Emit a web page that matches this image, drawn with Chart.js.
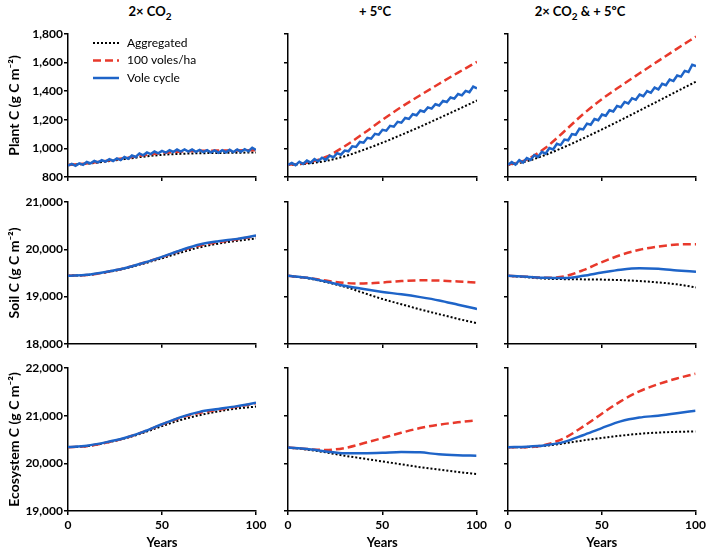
<!DOCTYPE html>
<html>
<head>
<meta charset="utf-8">
<script src="https://cdn.jsdelivr.net/npm/chart.js@4.4.0/dist/chart.umd.min.js"></script>
<style>
  body { margin: 0; background: #fff; width: 709px; height: 552px; position: relative; overflow: hidden; font-family: Lato, sans-serif; }
  canvas { position: absolute; }
  .coltitle { position: absolute; top: 3px; font: bold 13px/16px Lato, sans-serif; color: #000; transform: translateX(-50%); white-space: nowrap; }
  .coltitle sub { font-size: 10px; line-height: 0; }
</style>
</head>
<body>
<div class="coltitle" style="left:150px">2× CO<sub>2</sub></div>
<div class="coltitle" style="left:375px">+ 5ºC</div>
<div class="coltitle" style="left:580px">2× CO<sub>2</sub> &amp; + 5ºC</div>
<script>
// years for the smooth series and for the (zig-zag) plant vole cycle
const years = [0, 10, 20, 30, 40, 50, 60, 70, 80, 90, 100];
const cycleYears = [0, 2, 4, 6, 8, 10, 12, 14, 16, 18, 20, 22, 24, 26, 28, 30, 32, 34, 36, 38, 40,
  42, 44, 46, 48, 50, 52, 54, 56, 58, 60, 62, 64, 66, 68, 70, 72, 74, 76, 78, 80,
  82, 84, 86, 88, 90, 92, 94, 96, 98, 100];

// tick labels
const yearTicks = [0, 50, 100];
const plantTicks = [800, 1000, 1200, 1400, 1600, 1800];
const soilTicks = [18000, 19000, 20000, 21000];
const ecoTicks = [19000, 20000, 21000, 22000];

const rowTitles = ["Plant C (g C m⁻²)", "Soil C (g C m⁻²)", "Ecosystem C (g C m⁻²)"];
const seriesNames = ["Aggregated", "100 voles/ha", "Vole cycle"];

// Plant C
const plantCO2Agg = [884, 893, 908, 925, 942, 955, 962, 966, 968, 970, 971];
const plantCO2Voles = [884, 895, 912, 932, 952, 968, 978, 983, 985, 986, 987];
const plantCO2Cycle = [880, 892, 878, 895, 885, 905, 895, 912, 902, 918, 908, 925, 912, 930, 918, 940,
  928, 950, 940, 965, 952, 972, 960, 978, 965, 982, 970, 988, 975, 992, 978, 993, 978, 992, 976, 990,
  974, 988, 972, 986, 970, 988, 972, 990, 975, 992, 977, 995, 980, 1005, 990];

const plantTempAgg = [885, 893, 912, 945, 990, 1040, 1095, 1152, 1212, 1273, 1335];
const plantTempVoles = [885, 900, 940, 1015, 1105, 1200, 1290, 1372, 1452, 1530, 1605];
const plantTempCycle = [885, 899, 883, 907, 891, 915, 900, 925, 910, 935, 920, 949, 938, 967, 956, 985,
  980, 1015, 1010, 1045, 1040, 1074, 1068, 1102, 1096, 1130, 1124, 1158, 1152, 1186, 1180, 1213, 1206,
  1239, 1232, 1265, 1256, 1287, 1278, 1309, 1300, 1332, 1324, 1356, 1348, 1380, 1371, 1402, 1393, 1432, 1420];

const plantBothAgg = [885, 910, 955, 1010, 1070, 1133, 1198, 1265, 1332, 1400, 1467];
const plantBothVoles = [885, 922, 1005, 1120, 1240, 1345, 1437, 1525, 1612, 1698, 1782];
const plantBothCycle = [885, 904, 887, 918, 901, 932, 919, 954, 941, 976, 963, 1002, 993, 1032, 1023, 1062,
  1057, 1100, 1095, 1138, 1133, 1173, 1165, 1205, 1197, 1237, 1228, 1267, 1258, 1297, 1288, 1325, 1314,
  1351, 1340, 1377, 1365, 1401, 1389, 1425, 1413, 1452, 1442, 1481, 1471, 1510, 1502, 1542, 1534, 1585, 1575];

// Soil C
const soilCO2Agg = [19440, 19455, 19510, 19590, 19695, 19810, 19930, 20040, 20120, 20180, 20230];
const soilCO2Voles = [19440, 19455, 19515, 19600, 19710, 19835, 19970, 20080, 20150, 20210, 20280];
const soilCO2Cycle = [19440, 19460, 19520, 19600, 19710, 19840, 19980, 20100, 20170, 20220, 20290];

const soilTempAgg = [19440, 19390, 19310, 19210, 19080, 18950, 18840, 18730, 18630, 18530, 18440];
const soilTempVoles = [19440, 19400, 19340, 19290, 19280, 19300, 19330, 19345, 19340, 19320, 19295];
const soilTempCycle = [19440, 19400, 19320, 19230, 19160, 19100, 19050, 18990, 18920, 18830, 18740];

const soilBothAgg = [19440, 19410, 19380, 19370, 19365, 19360, 19350, 19330, 19300, 19260, 19195];
const soilBothVoles = [19440, 19420, 19400, 19430, 19560, 19730, 19880, 19990, 20060, 20100, 20110];
const soilBothCycle = [19440, 19420, 19400, 19395, 19440, 19510, 19570, 19600, 19590, 19555, 19525];

// Ecosystem C
const ecoCO2Agg = [20340, 20360, 20430, 20520, 20640, 20780, 20910, 21010, 21090, 21150, 21190];
const ecoCO2Voles = [20340, 20360, 20430, 20525, 20660, 20815, 20960, 21060, 21125, 21190, 21260];
const ecoCO2Cycle = [20340, 20370, 20440, 20530, 20660, 20820, 20970, 21080, 21140, 21200, 21270];

const ecoTempAgg = [20330, 20290, 20230, 20160, 20100, 20040, 19980, 19920, 19870, 19820, 19775];
const ecoTempVoles = [20330, 20300, 20280, 20320, 20420, 20530, 20640, 20740, 20810, 20860, 20900];
const ecoTempCycle = [20330, 20300, 20250, 20210, 20210, 20220, 20240, 20230, 20190, 20170, 20160];

const ecoBothAgg = [20340, 20340, 20370, 20420, 20480, 20530, 20580, 20620, 20645, 20660, 20670];
const ecoBothVoles = [20340, 20340, 20390, 20530, 20770, 21040, 21300, 21510, 21660, 21780, 21880];
const ecoBothCycle = [20340, 20350, 20380, 20450, 20590, 20740, 20880, 20960, 21000, 21050, 21105];

// page layout (pixels)
const colLeft = [0, 262, 482], colRight = [270, 490, 709];
const areaLeft = [68, 288, 508], areaRight = [256, 477, 696];
const rowTop = [20, 186, 352], rowBottom = [186, 352, 552];
const areaTop = [34, 202, 368], areaBottom = [177, 344, 511];

Chart.defaults.font.family = "Lato, sans-serif";
Chart.defaults.color = "#000";

function pts(xs, ys) {
  return xs.map((x, i) => ({ x: x, y: ys[i] }));
}

// legend drawn inside the first panel
const insideLegend = {
  id: "insideLegend",
  afterDatasetsDraw(chart) {
    const ctx = chart.ctx;
    const a = chart.chartArea;
    ctx.save();
    chart.data.datasets.forEach((ds, i) => {
      const y = a.top + 9 + i * 17.5;
      ctx.strokeStyle = ds.borderColor;
      ctx.lineWidth = ds.borderWidth;
      ctx.setLineDash(ds.borderDash || []);
      ctx.beginPath();
      ctx.moveTo(a.left + 25, y);
      ctx.lineTo(a.left + 51, y);
      ctx.stroke();
      ctx.setLineDash([]);
      ctx.fillStyle = "#000";
      ctx.font = "12px Lato, sans-serif";
      ctx.textBaseline = "middle";
      ctx.fillText(ds.label, a.left + 59, y);
    });
    ctx.restore();
  }
};

function makePanel(r, c, ticks, agg, voles, cycle, cycleX) {
  const canvas = document.createElement("canvas");
  const w = colRight[c] - colLeft[c];
  const h = rowBottom[r] - rowTop[r];
  canvas.width = w;
  canvas.height = h;
  canvas.style.left = colLeft[c] + "px";
  canvas.style.top = rowTop[r] + "px";
  canvas.style.width = w + "px";
  canvas.style.height = h + "px";
  document.body.appendChild(canvas);

  const yW = areaLeft[c] - colLeft[c];
  const xH = rowBottom[r] - areaBottom[r];
  const zigzag = cycleX.length > years.length;

  new Chart(canvas, {
    type: "line",
    data: {
      datasets: [
        {
          label: seriesNames[0],
          data: pts(years, agg),
          borderColor: "#000",
          borderWidth: 2,
          borderDash: [2, 2],
          pointRadius: 0,
          cubicInterpolationMode: "monotone",
          order: 2
        },
        {
          label: seriesNames[1],
          data: pts(years, voles),
          borderColor: "#e8392b",
          borderWidth: 2.5,
          borderDash: [8, 4],
          pointRadius: 0,
          cubicInterpolationMode: "monotone",
          order: 1
        },
        {
          label: seriesNames[2],
          data: pts(cycleX, cycle),
          borderColor: "#1e64c8",
          borderWidth: 2.5,
          pointRadius: 0,
          tension: zigzag ? 0 : 0.4,
          cubicInterpolationMode: zigzag ? "default" : "monotone",
          order: 0
        }
      ]
    },
    options: {
      responsive: false,
      animation: false,
      devicePixelRatio: 1,
      layout: { padding: { left: 0, top: areaTop[r] - rowTop[r], right: colRight[c] - areaRight[c], bottom: 0 } },
      plugins: { legend: { display: false }, tooltip: { enabled: false } },
      scales: {
        x: {
          type: "linear",
          min: 0,
          max: 100,
          afterBuildTicks: (s) => { s.ticks = yearTicks.map((v) => ({ value: v })); },
          afterFit: (s) => { s.height = xH; },
          ticks: { display: r === 2, font: { size: 12, weight: "bold" }, padding: 3, maxRotation: 0, autoSkip: false },
          grid: { drawOnChartArea: false, drawTicks: true, tickLength: 4, color: "#000", lineWidth: 1.5 },
          border: { color: "#000", width: 1.5 },
          title: { display: r === 2, text: "Years", font: { size: 13, weight: "bold" }, padding: { top: 0, bottom: 1 } }
        },
        y: {
          type: "linear",
          min: ticks[0],
          max: ticks[ticks.length - 1],
          afterBuildTicks: (s) => { s.ticks = ticks.map((v) => ({ value: v })); },
          afterFit: (s) => { s.width = yW; },
          ticks: { display: c === 0, font: { size: 12, weight: "bold" }, padding: 1, callback: (v) => v.toLocaleString("en-US") },
          grid: { drawOnChartArea: false, drawTicks: true, tickLength: 4, color: "#000", lineWidth: 1.5 },
          border: { color: "#000", width: 1.5 },
          title: { display: c === 0, text: rowTitles[r], font: { size: 14, weight: "bold" }, padding: { top: 6, bottom: 0 } }
        }
      }
    },
    plugins: r === 0 && c === 0 ? [insideLegend] : []
  });
}

makePanel(0, 0, plantTicks, plantCO2Agg, plantCO2Voles, plantCO2Cycle, cycleYears);
makePanel(0, 1, plantTicks, plantTempAgg, plantTempVoles, plantTempCycle, cycleYears);
makePanel(0, 2, plantTicks, plantBothAgg, plantBothVoles, plantBothCycle, cycleYears);
makePanel(1, 0, soilTicks, soilCO2Agg, soilCO2Voles, soilCO2Cycle, years);
makePanel(1, 1, soilTicks, soilTempAgg, soilTempVoles, soilTempCycle, years);
makePanel(1, 2, soilTicks, soilBothAgg, soilBothVoles, soilBothCycle, years);
makePanel(2, 0, ecoTicks, ecoCO2Agg, ecoCO2Voles, ecoCO2Cycle, years);
makePanel(2, 1, ecoTicks, ecoTempAgg, ecoTempVoles, ecoTempCycle, years);
makePanel(2, 2, ecoTicks, ecoBothAgg, ecoBothVoles, ecoBothCycle, years);
</script>
</body>
</html>
